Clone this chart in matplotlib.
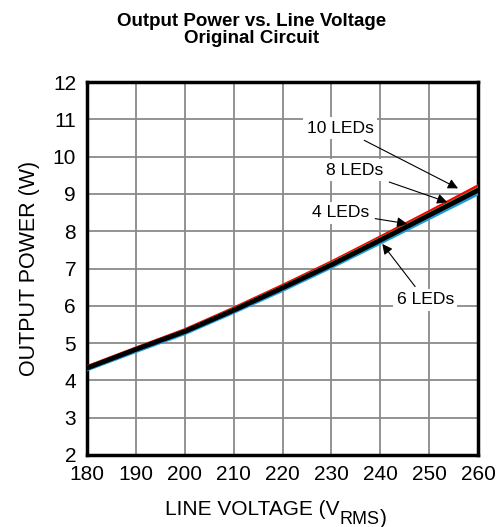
import matplotlib.pyplot as plt

plt.rcParams['font.family'] = ['Liberation Sans', 'DejaVu Sans']

# data
volts = [180, 190, 200, 210, 220, 230, 240, 250, 260]
leds10 = [4.36, 4.86, 5.35, 5.93, 6.54, 7.17, 7.84, 8.52, 9.21]
leds8 = [4.35, 4.85, 5.33, 5.91, 6.51, 7.14, 7.80, 8.47, 9.15]
leds4 = [4.33, 4.83, 5.31, 5.88, 6.48, 7.10, 7.76, 8.43, 9.10]
leds6 = [4.29, 4.78, 5.26, 5.83, 6.42, 7.04, 7.69, 8.35, 9.01]

fig = plt.figure(figsize=(4.98, 5.27), dpi=100)
ax = fig.add_axes([0.175, 0.137, 0.785, 0.707])

ax.plot(volts, leds10, color="red", lw=2.6, zorder=3)
ax.plot(volts, leds6, color="#1f9ad6", lw=2.6, zorder=3)
ax.plot(volts, leds8, color="#4caf3a", lw=2.2, zorder=4)
ax.plot(volts, leds4, color="black", lw=3.4, zorder=5)

ax.set_xlim(180, 260)
ax.set_ylim(2, 12)
ax.set_xticks(range(180, 261, 10))
ax.set_yticks(range(2, 13))
ax.grid(True, color="#8a8a8a", lw=1.3)
ax.tick_params(length=0, labelsize=15)
ax.tick_params(axis="x", pad=7)
ax.tick_params(axis="y", pad=8)
for s in ax.spines.values():
    s.set_linewidth(2.5)

# labels
ax.set_ylabel("OUTPUT POWER (W)", fontsize=15.5, labelpad=9)
xl = fig.text(0.332, 0.022, "LINE VOLTAGE (V", ha="left", va="baseline", fontsize=15)
sub = ax.annotate("RMS", xy=(1, 0), xycoords=xl, xytext=(0, -3), textcoords="offset points",
                  ha="left", va="baseline", fontsize=13)
ax.annotate(")", xy=(1, 3 / 13), xycoords=sub, ha="left", va="baseline", fontsize=15)
fig.text(0.505, 0.943, "Output Power vs. Line Voltage\nOriginal Circuit",
         ha="center", va="center", fontsize=13.5, fontweight="bold", linespacing=1.0)

# annotations
arrow = dict(arrowstyle="-|>", color="black", lw=0.8, mutation_scale=15, shrinkA=2, shrinkB=0)
box = dict(boxstyle="square,pad=0.2", fc="white", ec="none")
ax.annotate("10 LEDs", xy=(255.9, 9.15), xytext=(231.8, 10.77), ha="center", va="center",
            fontsize=12.6, bbox=box, arrowprops=arrow, zorder=6)
ax.annotate("8 LEDs", xy=(253.7, 8.78), xytext=(234.8, 9.64), ha="center", va="center",
            fontsize=12.6, bbox=box, arrowprops=arrow, zorder=6)
ax.annotate("4 LEDs", xy=(245.5, 8.2), xytext=(231.8, 8.49), ha="center", va="center",
            fontsize=12.6, bbox=box, arrowprops=arrow, zorder=6)
ax.annotate("6 LEDs", xy=(240.4, 7.66), xytext=(249.2, 6.16), ha="center", va="center",
            fontsize=12.6, bbox=box, arrowprops=arrow, zorder=6)

plt.savefig("out.png", dpi=100)
